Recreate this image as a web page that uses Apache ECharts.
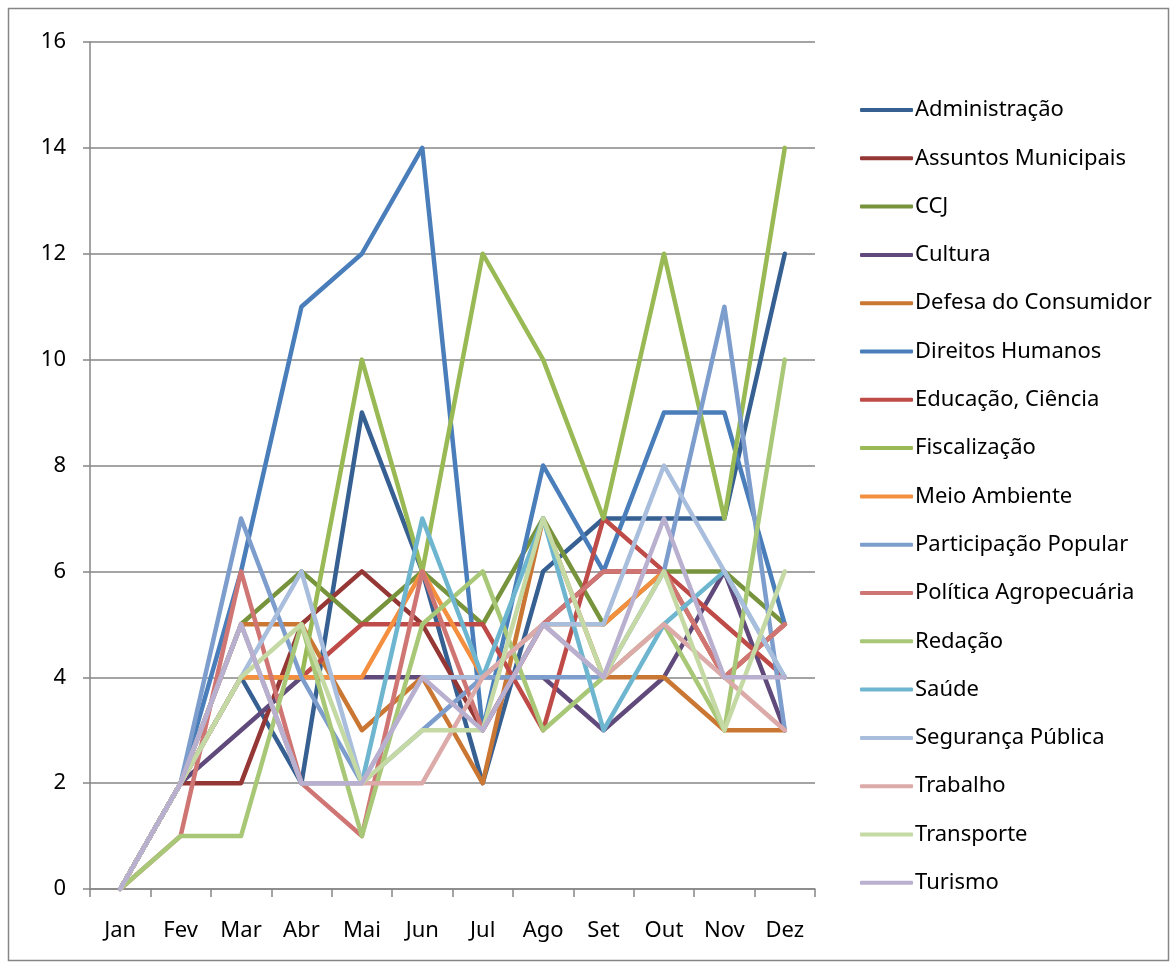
<!DOCTYPE html>
<html>
<head>
<meta charset="utf-8">
<script src="https://cdn.jsdelivr.net/npm/echarts@6/dist/echarts.min.js"></script>
<style>
  html, body { margin: 0; padding: 0; background: #fff; }
  #main { width: 1174px; height: 968px; }
</style>
</head>
<body>
<div id="main"></div>
<script>
var meses = ['Jan', 'Fev', 'Mar', 'Abr', 'Mai', 'Jun', 'Jul', 'Ago', 'Set', 'Out', 'Nov', 'Dez'];

var comissoes = ['Administração', 'Assuntos Municipais', 'CCJ', 'Cultura', 'Defesa do Consumidor',
    'Direitos Humanos', 'Educação, Ciência', 'Fiscalização', 'Meio Ambiente', 'Participação Popular',
    'Política Agropecuária', 'Redação', 'Saúde', 'Segurança Pública', 'Trabalho', 'Transporte', 'Turismo'];

var administracao = [0, 2, 4, 2, 9, 6, 2, 6, 7, 7, 7, 12];
var assuntosMunicipais = [0, 2, 2, 5, 6, 5, 3, 5, 6, 6, 4, 5];
var ccj = [0, 2, 5, 6, 5, 6, 5, 7, 5, 6, 6, 5];
var cultura = [0, 2, 3, 4, 4, 4, 4, 4, 3, 4, 6, 3];
var defesaConsumidor = [0, 2, 5, 5, 3, 4, 2, 7, 4, 4, 3, 3];
var direitosHumanos = [0, 2, 6, 11, 12, 14, 3, 8, 6, 9, 9, 5];
var educacao = [0, 2, 4, 4, 5, 5, 5, 3, 7, 6, 5, 4];
var fiscalizacao = [0, 2, 4, 4, 10, 6, 12, 10, 7, 12, 7, 14];
var meioAmbiente = [0, 2, 4, 4, 4, 6, 4, 5, 5, 6, 4, 5];
var participacao = [0, 2, 7, 4, 2, 3, 4, 4, 4, 6, 11, 3];
var politicaAgro = [0, 1, 6, 2, 1, 6, 3, 5, 6, 6, 4, 5];
var redacao = [0, 1, 1, 5, 1, 5, 6, 3, 4, 5, 3, 10];
var saude = [0, 2, 5, 2, 2, 7, 4, 7, 3, 5, 6, 4];
var seguranca = [0, 2, 4, 6, 2, 4, 4, 5, 5, 8, 6, 4];
var trabalho = [0, 2, 5, 2, 2, 2, 4, 5, 4, 5, 4, 3];
var transporte = [0, 2, 4, 5, 2, 3, 3, 7, 4, 6, 3, 6];
var turismo = [0, 2, 5, 2, 2, 4, 3, 5, 4, 7, 4, 4];

var valores = [administracao, assuntosMunicipais, ccj, cultura, defesaConsumidor, direitosHumanos,
    educacao, fiscalizacao, meioAmbiente, participacao, politicaAgro, redacao, saude, seguranca,
    trabalho, transporte, turismo];

var cores = ['#376092', '#953735', '#77933C', '#604A7B', '#CA7734', '#4A7EBB', '#BE4B48', '#98B954',
    '#F38F3F', '#7D9DCD', '#CF7674', '#A8C878', '#6EB6D0', '#A9BEDD', '#DBAAA9', '#C5D9A4', '#B9AFCF'];

var fonte = '"Noto Sans", "DejaVu Sans", sans-serif';

var series = comissoes.map(function (nome, i) {
    return {
        name: nome,
        type: 'line',
        data: valores[i],
        symbol: 'none',
        lineStyle: { width: 4.5, color: cores[i], join: 'round', cap: 'round' },
        itemStyle: { color: cores[i] }
    };
});

var myChart = echarts.init(document.getElementById('main'));
var option = {
    animation: false,
    backgroundColor: '#fff',
    color: cores,
    grid: { left: 90, right: 359, top: 42, bottom: 79 },
    legend: {
        orient: 'vertical',
        left: 855,
        top: 93,
        itemWidth: 53,
        itemHeight: 4,
        itemGap: 24.3,
        icon: 'roundRect',
        data: comissoes.map(function (nome, i) {
            return { name: nome, itemStyle: { color: cores[i] } };
        }),
        textStyle: { fontFamily: fonte, fontSize: 22, lineHeight: 24, color: '#000', padding: [0, 0, 0, -3] }
    },
    xAxis: {
        type: 'category',
        data: meses,
        boundaryGap: true,
        axisLine: { lineStyle: { color: '#868686', width: 1.5 } },
        axisTick: { show: true, length: 8, lineStyle: { color: '#868686', width: 1.5 } },
        axisLabel: { fontFamily: fonte, fontSize: 22, color: '#000', margin: 31 }
    },
    yAxis: {
        type: 'value',
        min: 0,
        max: 16,
        interval: 2,
        axisLine: { show: true, lineStyle: { color: '#868686', width: 1.5 } },
        axisTick: { show: true, length: 7, lineStyle: { color: '#868686', width: 1.5 } },
        splitLine: { lineStyle: { color: '#868686', width: 1.5 } },
        axisLabel: { fontFamily: fonte, fontSize: 22, color: '#000', margin: 24 }
    },
    graphic: [{
        type: 'rect',
        shape: { x: 8.5, y: 8.5, width: 1160, height: 952 },
        style: { fill: 'none', stroke: '#868686', lineWidth: 1.5 },
        silent: true
    }],
    series: series
};
myChart.setOption(option);
</script>
</body>
</html>
